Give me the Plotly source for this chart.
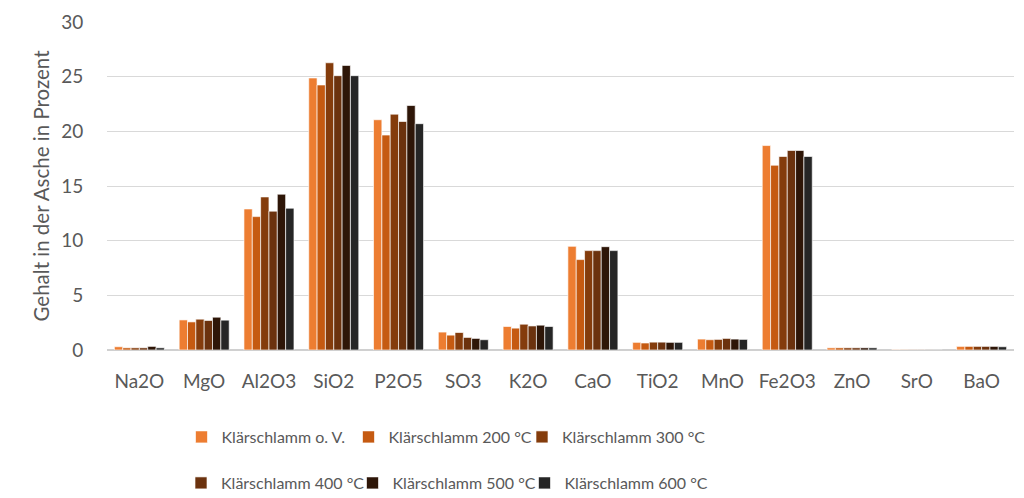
import plotly.graph_objects as go

# Oxide components found in the ash
oxides = ["Na2O", "MgO", "Al2O3", "SiO2", "P2O5", "SO3", "K2O", "CaO",
          "TiO2", "MnO", "Fe2O3", "ZnO", "SrO", "BaO"]

series_names = ["Klärschlamm o. V.", "Klärschlamm 200 °C", "Klärschlamm 300 °C",
                "Klärschlamm 400 °C", "Klärschlamm 500 °C", "Klärschlamm 600 °C"]

# Content in the ash, percent (one list per treatment)
ov_vals   = [0.30, 2.75, 12.90, 24.88, 21.06, 1.64, 2.15, 9.48, 0.70, 1.00, 18.70, 0.20, 0.04, 0.33]
t200_vals = [0.20, 2.57, 12.20, 24.24, 19.66, 1.36, 2.00, 8.27, 0.64, 0.94, 16.90, 0.20, 0.04, 0.33]
t300_vals = [0.20, 2.82, 14.00, 26.27, 21.57, 1.60, 2.36, 9.09, 0.72, 0.97, 17.70, 0.20, 0.04, 0.33]
t400_vals = [0.20, 2.70, 12.70, 25.09, 20.90, 1.15, 2.20, 9.09, 0.72, 1.06, 18.25, 0.20, 0.04, 0.33]
t500_vals = [0.33, 3.00, 14.25, 26.03, 22.36, 1.06, 2.27, 9.45, 0.70, 1.00, 18.25, 0.20, 0.04, 0.33]
t600_vals = [0.20, 2.73, 12.97, 25.09, 20.70, 0.94, 2.15, 9.09, 0.70, 0.97, 17.70, 0.20, 0.04, 0.30]

all_vals = [ov_vals, t200_vals, t300_vals, t400_vals, t500_vals, t600_vals]
colors = ["#ED7D31", "#C55A11", "#843C0C", "#6B320E", "#2E1608", "#262626"]

y_ticks = [0, 5, 10, 15, 20, 25, 30]

FONT = "Lato"
TEXT_COLOR = "#595959"

# Legend entry anchors (container fractions): two rows of three entries
legend_x = [181.5 / 1024, 348.5 / 1024, 522.0 / 1024,
            181.0 / 1024, 352.5 / 1024, 524.5 / 1024]
legend_y = [1 - 437 / 498] * 3 + [1 - 483 / 498] * 3
legend_ids = ["legend", "legend2", "legend3", "legend4", "legend5", "legend6"]

fig = go.Figure()
for name, vals, col, lid in zip(series_names, all_vals, colors, legend_ids):
    fig.add_trace(go.Bar(
        x=oxides, y=vals, name=name, showlegend=True,
        marker=dict(color=col, line=dict(color="rgba(255,255,255,0.8)", width=0.8)),
        legend=lid,
    ))

legends = {}
for lid, lx, ly in zip(legend_ids, legend_x, legend_y):
    legends[lid] = dict(
        x=lx, y=ly, xref="container", yref="container",
        xanchor="left", yanchor="middle", orientation="h",
        font=dict(family=FONT, size=16, color=TEXT_COLOR),
        itemwidth=30, bgcolor="rgba(0,0,0,0)", borderwidth=0,
    )

fig.update_layout(
    width=1024, height=498,
    margin=dict(l=107, r=10, t=20, b=148),
    paper_bgcolor="white", plot_bgcolor="white",
    showlegend=True,
    barmode="group", bargap=0.228, bargroupgap=0.0,
    font=dict(family=FONT, color=TEXT_COLOR),
    xaxis=dict(
        showgrid=False, showline=False, zeroline=False,
        ticks="outside", ticklen=14, tickcolor="rgba(0,0,0,0)",
        tickfont=dict(family=FONT, size=19, color=TEXT_COLOR),
    ),
    yaxis=dict(
        range=[0, 30], tickvals=y_ticks,
        showgrid=True, gridcolor="#D9D9D9", gridwidth=1,
        zeroline=True, zerolinecolor="#D0D0D0", zerolinewidth=1.5,
        showline=False,
        ticks="outside", ticklen=19, tickcolor="rgba(0,0,0,0)",
        tickfont=dict(family=FONT, size=19, color=TEXT_COLOR),
        title=dict(text="Gehalt in der Asche in Prozent",
                   font=dict(family=FONT, size=20.5, color=TEXT_COLOR), standoff=5),
    ),
    **legends,
)

fig.write_html("out.html")
